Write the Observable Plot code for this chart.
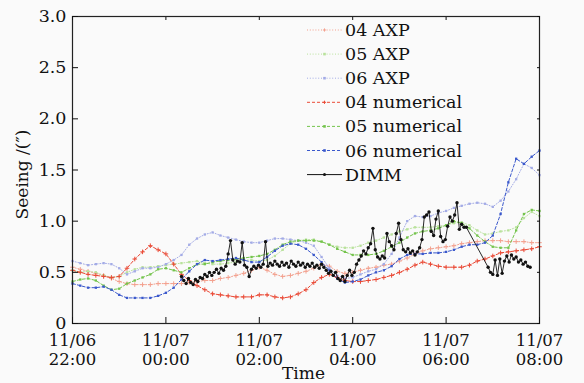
<!DOCTYPE html>
<html><head><meta charset="utf-8">
<script src="https://cdn.jsdelivr.net/npm/d3@7"></script>
<script src="https://cdn.jsdelivr.net/npm/@observablehq/plot@0.6"></script>
<style>
html,body{margin:0;padding:0;background:#fafafa;}
#chart svg{display:block;}
</style></head><body><div id="chart"></div>
<script>
// ---- data (hours after 11/06 22:00, sampled every 10 min) ----
const modelHours = d3.range(61).map(i => i / 6);

const axp04 = [0.55,0.53,0.51,0.49,0.47,0.44,0.41,0.39,0.38,0.38,0.38,0.39,0.39,0.39,0.39,0.40,0.41,0.42,0.42,0.44,0.45,0.47,0.49,0.52,0.55,0.52,0.48,0.46,0.47,0.49,0.51,0.54,0.58,0.56,0.51,0.49,0.50,0.52,0.54,0.55,0.57,0.58,0.61,0.64,0.68,0.71,0.73,0.74,0.75,0.76,0.78,0.79,0.80,0.81,0.81,0.81,0.80,0.80,0.80,0.79,0.79];
const axp05 = [0.52,0.50,0.51,0.50,0.47,0.45,0.46,0.50,0.53,0.55,0.55,0.56,0.57,0.58,0.59,0.60,0.61,0.59,0.58,0.58,0.59,0.60,0.62,0.62,0.61,0.62,0.66,0.72,0.78,0.81,0.82,0.82,0.80,0.77,0.75,0.74,0.74,0.76,0.79,0.81,0.84,0.87,0.90,0.92,0.94,0.94,0.94,0.95,0.96,0.98,0.99,0.96,0.91,0.87,0.88,0.90,0.91,0.94,1.03,1.09,1.05];
const axp06 = [0.61,0.59,0.57,0.58,0.59,0.58,0.54,0.48,0.51,0.54,0.54,0.55,0.58,0.62,0.67,0.77,0.83,0.87,0.89,0.86,0.84,0.82,0.80,0.79,0.79,0.81,0.83,0.83,0.82,0.81,0.79,0.76,0.65,0.54,0.47,0.44,0.45,0.48,0.51,0.53,0.58,0.68,0.84,1.00,1.05,1.04,1.05,1.08,1.10,1.13,1.15,1.17,1.18,1.17,1.14,1.20,1.29,1.41,1.56,1.52,1.45];
const num04 = [0.52,0.50,0.48,0.47,0.46,0.45,0.46,0.54,0.63,0.70,0.76,0.72,0.68,0.58,0.48,0.42,0.37,0.33,0.29,0.28,0.27,0.26,0.26,0.26,0.28,0.28,0.26,0.25,0.26,0.29,0.33,0.40,0.45,0.48,0.45,0.42,0.41,0.41,0.42,0.43,0.45,0.47,0.50,0.53,0.57,0.60,0.58,0.56,0.55,0.55,0.55,0.57,0.61,0.63,0.66,0.69,0.70,0.71,0.72,0.73,0.75];
const num05 = [0.41,0.43,0.44,0.42,0.37,0.33,0.34,0.39,0.42,0.45,0.48,0.53,0.54,0.52,0.50,0.54,0.58,0.58,0.60,0.61,0.62,0.63,0.64,0.65,0.66,0.68,0.72,0.77,0.80,0.81,0.81,0.81,0.80,0.77,0.73,0.70,0.67,0.67,0.67,0.68,0.71,0.75,0.79,0.84,0.88,0.90,0.91,0.93,0.96,1.00,0.98,0.93,0.86,0.80,0.75,0.74,0.74,0.91,1.07,1.11,1.10];
const num06 = [0.39,0.37,0.35,0.35,0.36,0.33,0.28,0.25,0.25,0.25,0.25,0.27,0.30,0.35,0.43,0.51,0.58,0.62,0.61,0.62,0.63,0.64,0.62,0.60,0.60,0.65,0.71,0.76,0.78,0.77,0.73,0.67,0.60,0.52,0.44,0.40,0.41,0.43,0.47,0.50,0.52,0.56,0.63,0.67,0.68,0.68,0.69,0.69,0.70,0.72,0.75,0.77,0.77,0.79,0.86,1.07,1.38,1.61,1.56,1.63,1.69];

// DIMM measurements: minutes after 22:00 (every 3 min, with a gap)
const dimmMinutes = d3.range(140, 507, 3).concat(d3.range(534, 589, 3));
const dimmSeeing = [
0.46,0.42,0.39,0.44,0.40,0.38,0.43,0.41,0.45,0.44,0.48,0.46,0.50,0.47,0.50,0.53,0.49,0.54,0.52,0.56,
0.68,0.81,0.62,0.58,0.61,0.60,0.79,0.57,0.55,0.46,0.53,0.56,0.54,0.57,0.55,0.58,0.80,0.56,0.59,0.57,
0.61,0.58,0.56,0.60,0.57,0.59,0.55,0.61,0.58,0.56,0.60,0.57,0.59,0.55,0.58,0.56,0.59,0.55,0.57,0.54,
0.58,0.55,0.52,0.49,0.51,0.47,0.50,0.44,0.42,0.46,0.41,0.47,0.52,0.47,0.50,0.58,0.62,0.66,0.71,0.68,
0.74,0.78,0.93,0.72,0.65,0.63,0.66,0.64,0.88,0.80,0.76,0.72,0.88,0.98,0.82,0.72,0.70,0.73,0.69,0.71,
0.67,0.70,0.74,0.82,1.04,1.06,1.09,0.90,0.86,1.02,1.10,0.85,0.80,0.82,0.95,1.04,1.00,1.06,1.18,0.92,
0.97,0.94,0.94,
0.55,0.50,0.48,0.62,0.47,0.63,0.49,0.61,0.66,0.60,0.67,0.63,0.65,0.60,0.62,0.58,0.60,0.56,0.55];

const seriesNames = ["04 AXP","05 AXP","06 AXP","04 numerical","05 numerical","06 numerical","DIMM"];
const seriesValues = [axp04, axp05, axp06, num04, num05, num06];
const seriesColors = ["#f3a08e","#b9e29c","#a3abe6","#ea4a36","#74c44c","#3a58cc","#111111"];
const seriesDash = ["1,1.8","1,1.8","1,1.8","3,2","3,2","3,2",null];
const seriesSymbols = ["plus","square","square","plus","square","square","circle"];

const xTicks = [0, 2, 4, 6, 8, 10];
const xTickLabels = ["11/06\n22:00","11/07\n00:00","11/07\n02:00","11/07\n04:00","11/07\n06:00","11/07\n08:00"];
const yTicks = [0, 0.5, 1.0, 1.5, 2.0, 2.5, 3.0];
const yTickLabels = ["0","0.5","1.0","1.5","2.0","2.5","3.0"];

// ---- build rows ----
const modelRows = seriesValues.map((vals, s) => vals.map((v, i) => ({t: modelHours[i], v, s})));
const dimmRows = dimmMinutes.map((m, i) => ({t: m / 60, v: dimmSeeing[i], s: 6}));
const allRows = [...modelRows, dimmRows];

const FONT = "'DejaVu Serif', 'Liberation Serif', serif";
const marks = [];
for (let s = 0; s < 7; s++) {
  const rows = allRows[s];
  marks.push(Plot.line(rows, {x: "t", y: "v", stroke: seriesColors[s], strokeWidth: s === 6 ? 0.9 : 1, strokeDasharray: seriesDash[s]}));
  if (seriesSymbols[s] === "plus") {
    marks.push(Plot.dot(rows, {x: "t", y: "v", symbol: "plus", r: 1.6, stroke: seriesColors[s], strokeWidth: 1}));
  } else {
    marks.push(Plot.dot(rows, {x: "t", y: "v", symbol: seriesSymbols[s], r: s === 6 ? 1.7 : 1.3, fill: seriesColors[s], stroke: "none"}));
  }
}

const chart = Plot.plot({
  width: 584, height: 383,
  marginLeft: 72, marginRight: 45, marginTop: 16, marginBottom: 60,
  style: {fontFamily: FONT, fontSize: "16.5px", background: "#fafafa", color: "#111", overflow: "visible"},
  x: {domain: [0, 10], label: null},
  y: {domain: [0, 3], label: null},
  marks: [
    ...marks,
    Plot.frame({stroke: "#222", strokeWidth: 1.2}),
    Plot.axisX(xTicks, {anchor: "bottom", tickSize: -6, tickPadding: 16, fontSize: 16.5, lineHeight: 1.1, tickFormat: (d, i) => xTickLabels[i], label: null}),
    Plot.axisX(xTicks, {anchor: "top", tickSize: -3, tickFormat: () => "", label: null}),
    Plot.axisY(yTicks, {anchor: "left", tickSize: -6, tickPadding: 12, fontSize: 17.5, tickFormat: (d, i) => yTickLabels[i], label: null}),
    Plot.axisY(yTicks, {anchor: "right", tickSize: -3, tickFormat: () => "", label: null})
  ]
});

document.getElementById("chart").appendChild(chart);

// ---- axis titles and legend ----
const svg = d3.select(chart);
const xs = chart.scale("x"), ys = chart.scale("y");
const midX = (xs.range[0] + xs.range[1]) / 2;
svg.append("text").attr("x", midX - 2).attr("y", 379).attr("text-anchor", "middle")
  .attr("font-size", 17).attr("fill", "#111").text("Time");
const midY = (ys.range[0] + ys.range[1]) / 2;
svg.append("text").attr("transform", `translate(28,${midY + 5}) rotate(-90)`).attr("text-anchor", "middle")
  .attr("font-size", 17).attr("fill", "#111").text("Seeing /(\u2033)");

const leg = svg.append("g");
const legX0 = 307, legX1 = 342, legTextX = 345, legY0 = 30, legDy = 24.1;
seriesNames.forEach((name, s) => {
  const y = legY0 + s * legDy;
  leg.append("line").attr("x1", legX0).attr("x2", legX1).attr("y1", y).attr("y2", y)
    .attr("stroke", seriesColors[s]).attr("stroke-width", 1).attr("stroke-dasharray", seriesDash[s]);
  const cx = (legX0 + legX1) / 2;
  if (seriesSymbols[s] === "plus") {
    leg.append("path").attr("d", `M${cx-1.6},${y}h3.2M${cx},${y-1.6}v3.2`).attr("stroke", seriesColors[s]);
  } else if (seriesSymbols[s] === "square") {
    leg.append("rect").attr("x", cx - 1.3).attr("y", y - 1.3).attr("width", 2.6).attr("height", 2.6).attr("fill", seriesColors[s]);
  } else {
    leg.append("circle").attr("cx", cx).attr("cy", y).attr("r", 1.5).attr("fill", seriesColors[s]);
  }
  leg.append("text").attr("x", legTextX).attr("y", y + 6).attr("text-anchor", "start")
    .attr("font-size", 17.5).attr("fill", "#111").text(name);
});
// use the same serif face for every text of the chart
svg.selectAll("text").attr("font-family", FONT).style("font-family", FONT);
</script></body></html>
